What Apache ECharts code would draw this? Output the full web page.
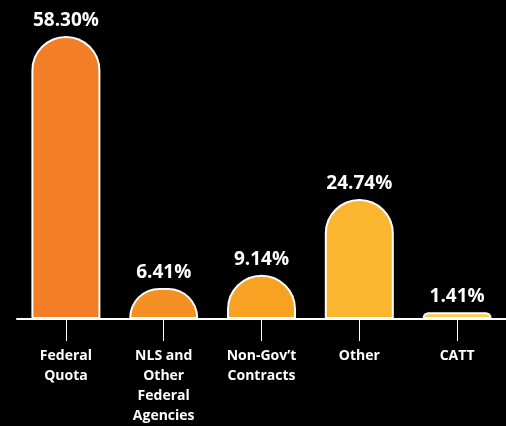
<!DOCTYPE html>
<html>
<head>
<meta charset="utf-8">
<script src="https://cdn.jsdelivr.net/npm/echarts@6/dist/echarts.min.js"></script>
<style>
  html, body { margin: 0; padding: 0; background: #000; }
  #chart { width: 506px; height: 426px; }
</style>
</head>
<body>
<div id="chart"></div>
<script>
// categories and shares (percent)
const categories = ['Federal\nQuota', 'NLS and\nOther\nFederal\nAgencies', 'Non-Gov\u2019t\nContracts', 'Other', 'CATT']
const shares = [58.30, 6.41, 9.14, 24.74, 1.41]
const barColors = ['#F27E28', '#F59024', '#F8A123', '#FBB631', '#FDCD4E']

const chart = echarts.init(document.getElementById('chart'))

const options = {
  backgroundColor: '#000',
  animation: false,
  grid: {
    left: 17,
    right: -1,
    top: 36,
    bottom: 104
  },
  xAxis: {
    type: 'category',
    data: categories,
    axisLine: {
      show: true,
      lineStyle: { color: '#fff', width: 2 }
    },
    axisTick: {
      show: true,
      alignWithLabel: true,
      interval: 0,
      length: 22,
      lineStyle: { color: '#fff', width: 1 }
    },
    axisLabel: {
      color: '#fff',
      fontFamily: 'Open Sans',
      fontWeight: 'bold',
      fontSize: 14,
      lineHeight: 20,
      margin: 27,
      interval: 0
    }
  },
  yAxis: {
    type: 'value',
    min: 0,
    max: 'dataMax',
    show: false,
    splitLine: { show: false }
  },
  series: [
    {
      type: 'bar',
      barWidth: 69,
      data: shares.map((v, i) => ({
        value: v,
        itemStyle: { color: barColors[i] }
      })),
      itemStyle: {
        borderColor: '#fff',
        borderWidth: 2,
        borderRadius: [35, 35, 0, 0]
      },
      label: {
        show: true,
        position: 'top',
        distance: 6,
        color: '#fff',
        fontFamily: 'Open Sans',
        fontWeight: 'bold',
        fontSize: 19,
        formatter: p => p.value.toFixed(2) + '%'
      }
    }
  ]
}

chart.setOption(options, true)
</script>
</body>
</html>
